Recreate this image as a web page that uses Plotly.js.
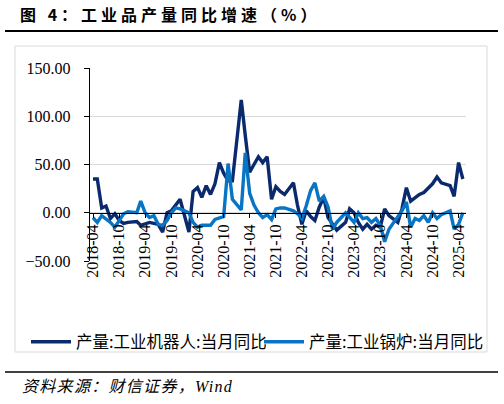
<!DOCTYPE html>
<html>
<head>
<meta charset="utf-8">
<script src="https://cdn.plot.ly/plotly-3.0.1.min.js"></script>
<style>
html,body{margin:0;padding:0;background:#fff;}
#chart{width:504px;height:404px;}
.gtitle{letter-spacing:4px;}
.annotation-text{letter-spacing:1.3px;}
</style>
</head>
<body>
<div id="chart"></div>
<script>
const months = [
'2018-04','2018-05','2018-06','2018-07','2018-08','2018-09','2018-10','2018-11','2018-12',
'2019-01','2019-02','2019-03','2019-04','2019-05','2019-06','2019-07','2019-08','2019-09','2019-10','2019-11','2019-12',
'2020-01','2020-02','2020-03','2020-04','2020-05','2020-06','2020-07','2020-08','2020-09','2020-10','2020-11','2020-12',
'2021-01','2021-02','2021-03','2021-04','2021-05','2021-06','2021-07','2021-08','2021-09','2021-10','2021-11','2021-12',
'2022-01','2022-02','2022-03','2022-04','2022-05','2022-06','2022-07','2022-08','2022-09','2022-10','2022-11','2022-12',
'2023-01','2023-02','2023-03','2023-04','2023-05','2023-06','2023-07','2023-08','2023-09','2023-10','2023-11','2023-12',
'2024-01','2024-02','2024-03','2024-04','2024-05','2024-06','2024-07','2024-08','2024-09','2024-10','2024-11','2024-12',
'2025-01','2025-02','2025-03','2025-04','2025-05'
];

const robot = [
35,35,5,7,-6,-1,-8,-11,-10,
null,-9,-13,-11,-10,-11,-12,-20,0,2,8,14,
null,-20,22,26,16,28,19,30,52,41,33,33,
null,117,80,42,50,58,52,58,14,27,22,19,
null,31,8,-12,2,-4,-8,6,16,-5,-12,-18,
null,-10,4,0,-10,-17,-12,-17,-13,-15,4,-3,
null,-10,4,26,12,16,19,21,26,30,37,31,
null,28,17,52,35
];

const boiler = [
-5,-10,-3,-6,-10,-15,-8,-1,1,
null,0,12,0,-5,-3,-12,-13,-8,0,5,4,
null,0,-10,-15,-13,-13,-13,-7,-5,-4,51,14,
null,3,62,20,8,0,-5,-2,-7,4,5,5,
null,2,-1,-6,7,23,31,12,17,6,-17,-10,
null,0,-5,-10,0,-6,-5,-10,-6,-13,-30,-17,
null,-4,2,11,-15,-6,-8,-3,-10,0,-6,-2,
null,2,-17,-12,0
];

const seriesNames = ['产量:工业机器人:当月同比', '产量:工业锅炉:当月同比'];
const yTicks = [-50, 0, 50, 100, 150];
const titleText = '图 4：工业品产量同比增速（%）';
const sourceText = '资料来源：财信证券，Wind';

// plot area in pixels
const L = 90, T = 68, W = 376, H = 193;
const FW = 504, FH = 404;
const px = x => (x - L) / W;
const py = y => (T + H - y) / H;

const traces = [
  {x: months, y: robot, type: 'scatter', mode: 'lines', name: seriesNames[0],
   connectgaps: true, line: {color: '#0B2A6E', width: 3.4}, legend: 'legend'},
  {x: months, y: boiler, type: 'scatter', mode: 'lines', name: seriesNames[1],
   connectgaps: true, line: {color: '#0874C4', width: 3.4}, legend: 'legend2'}
];

const legFont = {family: 'Noto Sans CJK SC, sans-serif', size: 16.5, color: '#000'};

const layout = {
  width: FW, height: FH,
  margin: {l: L, r: FW - L - W, t: T, b: FH - T - H, pad: 0},
  paper_bgcolor: '#fff', plot_bgcolor: '#fff',
  showlegend: true,
  title: {
    text: titleText, xref: 'container', yref: 'container',
    x: 20 / FW, xanchor: 'left', y: 1 - 15.5 / FH, yanchor: 'middle',
    font: {family: 'Noto Sans CJK SC, sans-serif', size: 16, color: '#000', weight: 'bold'}
  },
  xaxis: {
    type: 'date', range: ['2018-03-11', '2025-05-23'],
    tick0: '2018-04-01', dtick: 'M6', tickformat: '%Y-%m', tickangle: -90,
    ticks: 'outside', ticklen: 4, tickcolor: '#000', tickwidth: 1,
    showline: true, linecolor: '#000', linewidth: 1.3,
    anchor: 'free', position: 0.25,
    showgrid: false, zeroline: false,
    tickfont: {family: 'Liberation Serif, serif', size: 16, color: '#000'}
  },
  yaxis: {
    range: [-50, 150], tickvals: yTicks, tickformat: '.2f',
    showline: true, linecolor: '#000', linewidth: 1.3,
    ticks: 'outside', ticklen: 5, tickcolor: '#000',
    showgrid: true, gridcolor: '#d9d9d9', gridwidth: 1, zeroline: false,
    ticklabelstandoff: 10,
    tickfont: {family: 'Liberation Serif, serif', size: 16, color: '#000'}
  },
  legend: {
    orientation: 'h', x: px(26), xanchor: 'left', y: py(342), yanchor: 'middle',
    font: legFont, bgcolor: 'rgba(0,0,0,0)', borderwidth: 0, itemwidth: 40
  },
  legend2: {
    orientation: 'h', x: px(259), xanchor: 'left', y: py(342), yanchor: 'middle',
    font: legFont, bgcolor: 'rgba(0,0,0,0)', borderwidth: 0, itemwidth: 40
  },
  shapes: [
    {type: 'rect', xref: 'paper', yref: 'paper', x0: px(15), x1: px(487), y0: py(352), y1: py(46),
     line: {color: '#d9d9d9', width: 1}, fillcolor: 'rgba(0,0,0,0)', layer: 'below'},
    {type: 'line', xref: 'paper', yref: 'paper', x0: px(5), x1: px(498), y0: py(31), y1: py(31),
     line: {color: '#000', width: 2}},
    {type: 'line', xref: 'paper', yref: 'paper', x0: px(5), x1: px(498), y0: py(372), y1: py(372),
     line: {color: '#000', width: 1.5}}
  ],
  annotations: [
    {text: sourceText, xref: 'paper', yref: 'paper', x: px(20), xanchor: 'left',
     y: py(386), yanchor: 'middle', showarrow: false,
     font: {family: 'Liberation Serif, Noto Sans CJK SC, serif', size: 16, color: '#000', style: 'italic'}}
  ]
};

Plotly.newPlot('chart', traces, layout, {staticPlot: true, displayModeBar: false});
</script>
</body>
</html>
